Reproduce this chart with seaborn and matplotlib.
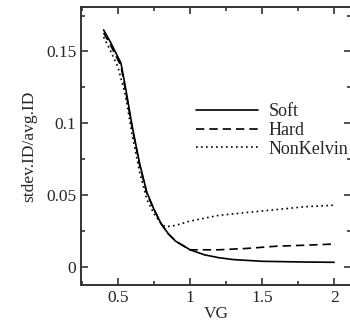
import numpy as np
import pandas as pd
import matplotlib
matplotlib.use("Agg")
import matplotlib.pyplot as plt
import seaborn as sns
from matplotlib.ticker import MultipleLocator

soft_x = [0.40, 0.45, 0.50, 0.52, 0.55, 0.60, 0.65, 0.70, 0.75, 0.80, 0.85, 0.90, 1.00, 1.10, 1.20, 1.30, 1.50, 1.80, 2.00]
soft_y = [0.165, 0.156, 0.146, 0.142, 0.126, 0.097, 0.072, 0.052, 0.040, 0.030, 0.023, 0.018, 0.012, 0.0085, 0.0065, 0.0052, 0.0040, 0.0035, 0.0033]

hard_x = [0.40, 0.45, 0.50, 0.52, 0.55, 0.60, 0.65, 0.70, 0.75, 0.80, 0.85, 0.90, 1.00, 1.20, 1.40, 1.60, 1.80, 2.00]
hard_y = [0.163, 0.154, 0.144, 0.140, 0.124, 0.096, 0.071, 0.051, 0.040, 0.030, 0.023, 0.018, 0.012, 0.012, 0.013, 0.0145, 0.0152, 0.016]

nk_x = [0.40, 0.45, 0.50, 0.55, 0.60, 0.65, 0.70, 0.75, 0.80, 0.83, 0.90, 1.00, 1.20, 1.40, 1.60, 1.80, 2.00]
nk_y = [0.160, 0.150, 0.139, 0.120, 0.091, 0.066, 0.047, 0.037, 0.030, 0.028, 0.029, 0.032, 0.036, 0.038, 0.040, 0.042, 0.043]

series = ["Soft", "Hard", "NonKelvin"]

df = pd.concat([
    pd.DataFrame({"VG": soft_x, "val": soft_y, "series": "Soft"}),
    pd.DataFrame({"VG": hard_x, "val": hard_y, "series": "Hard"}),
    pd.DataFrame({"VG": nk_x, "val": nk_y, "series": "NonKelvin"}),
])

sns.set_style("ticks")
plt.rcParams["font.family"] = ["Liberation Serif", "DejaVu Serif"]

fig = plt.figure(figsize=(3.5, 3.23), dpi=100)
ax = fig.add_axes([0.2314, 0.1176, 0.772, 0.861])

dash_map = {"Soft": "", "Hard": (5, 3), "NonKelvin": (1, 2)}
sns.lineplot(data=df, x="VG", y="val", style="series", style_order=series,
             dashes=dash_map, color="black", linewidth=1.2, ax=ax, sort=False)

ax.set_xlim(0.243, 2.118)
ax.set_ylim(-0.0125, 0.181)
ax.xaxis.set_minor_locator(MultipleLocator(0.25))
ax.yaxis.set_minor_locator(MultipleLocator(0.025))
ax.set_xticks([0.5, 1, 1.5, 2])
ax.set_xticklabels(["0.5", "1", "1.5", "2"])
ax.set_yticks([0, 0.05, 0.1, 0.15])
ax.set_yticklabels(["0", "0.05", "0.1", "0.15"])
ax.tick_params(which="both", direction="in", top=True, right=True, labelsize=12.5, width=1.2, color="#333333")
ax.tick_params(which="major", length=5)
ax.tick_params(which="minor", length=3)
for s in ax.spines.values():
    s.set_linewidth(1.4)
    s.set_color("#333333")

ax.set_xlabel("VG", fontsize=12.5, labelpad=0)
ax.set_ylabel("stdev.ID/avg.ID", fontsize=12.5, labelpad=6)

leg = ax.legend(title=None, frameon=False, fontsize=13, loc="upper left",
                bbox_to_anchor=(0.40, 0.68), handlelength=3.4, handletextpad=0.6,
                labelspacing=0.1, borderaxespad=0)

fig.savefig("out.png", dpi=100)
